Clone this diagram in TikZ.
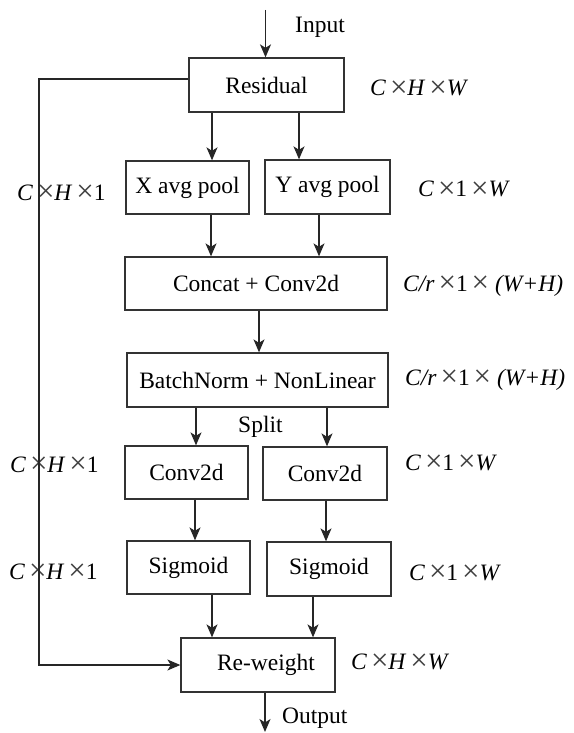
\documentclass[tikz,border=0pt]{standalone}
\usepackage{fontspec}
\setmainfont{Liberation Serif}
\usetikzlibrary{arrows.meta}
\newcommand\tms{\raisebox{-1.5pt}{\fontsize{31}{31}\selectfont\color{black!75}×}}
\begin{document}
\begin{tikzpicture}[x=1pt,y=-1pt,
  box/.style={draw=black!80,line width=1.3pt,rectangle,inner sep=0pt,
    font=\fontsize{23.5}{27}\selectfont},
  arr/.style={draw=black!85,line width=1.3pt,-{Stealth[length=13pt,width=11pt,inset=3.5pt]}},
  lab/.style={inner sep=0pt,anchor=base west,font=\fontsize{23.5}{27}\selectfont},
  txt/.style={inner sep=0pt,anchor=base west,font=\fontsize{23.5}{27}\selectfont}]
\useasboundingbox (0,0) rectangle (573,733);
% boxes
\node[box,minimum width=155pt,minimum height=54pt] (res) at (266.5,85) {Residual};
\node[box,minimum width=123pt,minimum height=53pt] (xp) at (187.5,187.5) {X avg pool};
\node[box,minimum width=125pt,minimum height=54pt] (yp) at (327.5,187) {Y avg pool};
\node[box,minimum width=262pt,minimum height=53pt] (cat) at (256,283.5) {Concat + Conv2d};
\node[box,minimum width=261pt,minimum height=54pt] (bn) at (257.5,380) {BatchNorm + NonLinear};
\node[box,minimum width=123pt,minimum height=53pt] (c1) at (186.5,472.5) {Conv2d};
\node[box,minimum width=124pt,minimum height=53pt] (c2) at (325,473.5) {Conv2d};
\node[box,minimum width=123pt,minimum height=53pt] (s1) at (188.5,567.5) {Sigmoid};
\node[box,minimum width=124pt,minimum height=54pt] (s2) at (329,569) {Sigmoid};
\node[box,minimum width=154pt,minimum height=54pt] (rw) at (258,665) {\hspace{16pt}Re-weight};
% plain texts
\node[txt] (tin) at (295,33) {Input};
\node[txt] (tout) at (282,723) {Output};
\node[txt] (tsplit) at (238,432) {Split};
% dimension labels
\node[lab] (l1) at (370,96) {\textit{C}\,\tms\textit{H}\,\tms\textit{W}};
\node[lab] (l2) at (418,196.5) {\textit{C}\,\tms1\,\tms\textit{W}};
\node[lab] (l3) at (17,200) {\textit{C}\,\tms\textit{H}\,\tms1};
\node[lab] (l4) at (403,291) {\textit{C/r}\,\tms1\,\tms\ \textit{(W+H)}};
\node[lab] (l5) at (405,385) {\textit{C/r}\,\tms1\,\tms\ \textit{(W+H)}};
\node[lab] (l6) at (10,472) {\textit{C}\,\tms\textit{H}\,\tms1};
\node[lab] (l7) at (405,470) {\textit{C}\,\tms1\,\tms\textit{W}};
\node[lab] (l8) at (9,579) {\textit{C}\,\tms\textit{H}\,\tms1};
\node[lab] (l9) at (409,580) {\textit{C}\,\tms1\,\tms\textit{W}};
\node[lab] (l10) at (351,669) {\textit{C}\,\tms\textit{H}\,\tms\textit{W}};
% connectors
\coordinate (in) at (265.5,10);
\coordinate (out) at (265,732);
\coordinate (lp) at (39,665);
\draw[arr] (in) -- (res.north -| in);
\draw[arr] (res.south -| 212,0) -- (xp.north -| 212,0);
\draw[arr] (res.south -| 299,0) -- (yp.north -| 299,0);
\draw[arr] (xp.south -| 211,0) -- (cat.north -| 211,0);
\draw[arr] (yp.south -| 319,0) -- (cat.north -| 319,0);
\draw[arr] (cat.south -| 259,0) -- (bn.north -| 259,0);
\draw[arr] (bn.south -| 196,0) -- (c1.north -| 196,0);
\draw[arr] (bn.south -| 327,0) -- (c2.north -| 327,0);
\draw[arr] (c1.south -| 195,0) -- (s1.north -| 195,0);
\draw[arr] (c2.south -| 326,0) -- (s2.north -| 326,0);
\draw[arr] (s1.south -| 212,0) -- (rw.north -| 212,0);
\draw[arr] (s2.south -| 313,0) -- (rw.north -| 313,0);
\draw[arr] (rw.south -| out) -- (out);
\draw[arr] ([yshift=6pt]res.west) -| (lp) -- (rw.west);
\end{tikzpicture}
\end{document}
